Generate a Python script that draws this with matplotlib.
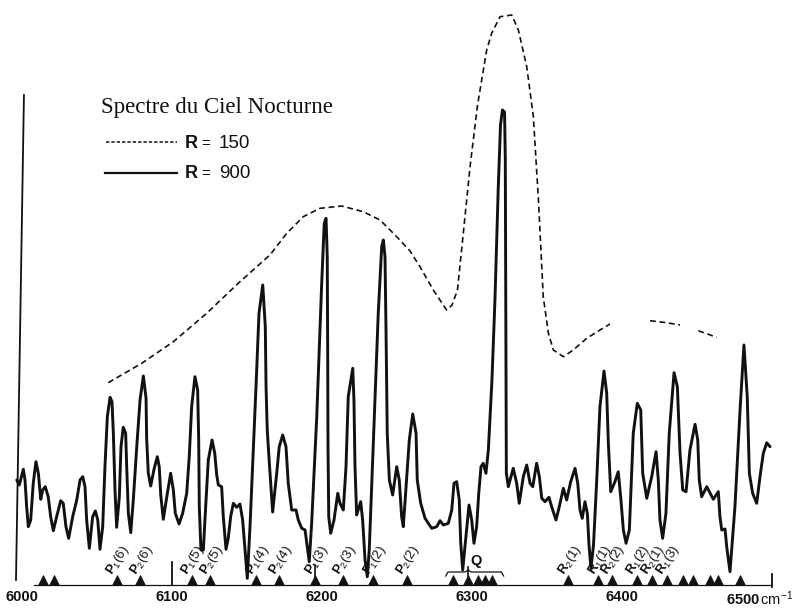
import numpy as np
import matplotlib
matplotlib.use("Agg")
import matplotlib.pyplot as plt
from matplotlib.lines import Line2D

plt.rcParams['font.family'] = ['Liberation Sans', 'DejaVu Sans']
plt.rcParams['mathtext.fontset'] = 'custom'
plt.rcParams['mathtext.rm'] = 'Liberation Sans'
plt.rcParams['mathtext.it'] = 'Liberation Sans:italic'
plt.rcParams['mathtext.bf'] = 'Liberation Sans:bold'

# ---------------- data (wavenumber in cm-1, relative intensity) ----------------
wn_900 = [5996.5, 5998.2, 6000.9, 6002.0, 6003.1, 6004.2, 6005.8, 6007.5, 6009.3, 6010.9,
          6012.5, 6013.8, 6015.5, 6017.5, 6019.1, 6020.9, 6023.1, 6025.8, 6027.5, 6029.3,
          6031.1, 6033.8, 6036.5, 6038.7, 6040.5, 6042.0, 6043.1, 6044.9, 6047.1, 6048.9,
          6050.5, 6052.0, 6053.8, 6055.3, 6056.9, 6058.7, 6060.0, 6060.9, 6062.0, 6063.1,
          6064.9, 6066.0, 6067.5, 6069.1, 6069.8, 6070.9, 6072.5, 6074.2, 6076.5, 6078.7,
          6080.9,
          6082.7, 6083.1, 6084.2, 6085.8, 6088.0, 6090.2, 6091.5, 6092.5, 6094.2, 6096.9,
          6099.1, 6100.9, 6102.2, 6104.7, 6107.1, 6109.8, 6111.5, 6113.1, 6115.3, 6117.1,
          6117.8, 6118.2, 6119.3, 6120.9, 6122.2, 6124.2, 6126.7, 6128.5, 6129.8, 6130.9,
          6133.1, 6134.2, 6136.0, 6137.5, 6139.1, 6140.9, 6143.1, 6145.3, 6147.1, 6148.7,
          6150.2, 6152.0, 6154.2, 6156.0, 6158.0, 6160.5, 6162.2, 6162.7, 6163.5, 6164.9,
          6167.1,
          6169.8, 6171.5, 6173.8, 6176.0, 6177.5, 6179.8, 6182.7, 6184.2, 6186.5, 6188.7,
          6190.2, 6191.5, 6193.1, 6196.5, 6199.8, 6201.5, 6202.7, 6203.5, 6203.8, 6204.0,
          6204.5, 6205.8, 6208.0, 6210.5, 6212.0, 6214.2, 6216.0, 6217.5, 6220.5, 6221.3,
          6222.0, 6223.1, 6225.8, 6227.1, 6228.7, 6230.2, 6231.5, 6234.2, 6237.5, 6239.8,
          6240.9, 6242.0, 6242.7, 6243.5, 6244.9, 6247.1, 6249.8, 6251.5, 6253.1, 6254.2,
          6256.5, 6258.2, 6260.5, 6262.7, 6263.5, 6265.8, 6268.7, 6273.1, 6276.5, 6278.7,
          6280.9, 6284.2, 6286.5, 6288.0, 6289.8, 6291.5, 6292.5, 6293.8, 6295.5, 6298.0,
          6299.8, 6301.3, 6303.1, 6304.5, 6306.0, 6307.5, 6309.3, 6310.9, 6313.3, 6315.3,
          6317.5, 6319.0, 6320.3, 6321.7, 6322.2, 6322.5, 6322.7, 6322.9, 6324.2, 6327.5,
          6329.8, 6331.5, 6334.2, 6336.5, 6338.7, 6340.5, 6343.1,
          6344.9, 6346.5, 6348.7, 6351.3, 6353.1, 6356.0, 6358.2, 6360.9, 6363.1, 6365.8,
          6368.7, 6370.5, 6372.0, 6373.5, 6375.3, 6376.9, 6378.0, 6379.3, 6381.0, 6383.1,
          6385.3, 6388.0, 6389.8, 6390.9, 6392.5, 6395.3, 6397.5, 6399.3, 6400.9, 6402.7,
          6404.9, 6407.5, 6410.2, 6412.5, 6413.8, 6416.5, 6419.8, 6422.7, 6424.2, 6425.3,
          6427.1, 6429.3, 6431.5, 6434.7, 6436.9, 6438.7, 6440.5, 6442.7, 6445.3, 6448.7,
          6450.5, 6451.5, 6453.1, 6456.5, 6460.9, 6464.2, 6465.3, 6466.5, 6468.7, 6469.8,
          6472.0, 6475.3, 6478.7, 6481.3, 6483.5, 6484.9, 6487.1, 6489.8, 6492.0, 6494.2,
          6496.5, 6498.7]

int_900 = [103, 98, 113.7, 103, 76.3, 56.3, 63, 99.7, 121.3, 109.7,
           83.7, 93, 96.3, 86.3, 66.3, 52.3, 66.3, 82.3, 79.7, 56.3,
           44.7, 66.3, 83, 103, 106.3, 96.3, 63, 34.7, 66.3, 72,
           63, 33.7, 56.3, 116.3, 166.3, 185.7, 181.3, 149.7, 93, 55.7,
           86.3, 136.3, 155.7, 149.7, 116.3, 69.7, 50.3, 83, 136.3, 183,
           207,
           184.7, 144.7, 109.7, 97, 113.7, 126.3, 116.3, 88, 63.7, 89.7,
           109.7, 93, 69.7, 59, 69.7, 89.7, 126.3, 176.3, 206.3, 193,
           143, 76.3, 33, 33, 69.7, 123, 143, 129.7, 108, 98,
           96.3, 66.3, 33.7, 44.7, 66.3, 79.7, 75.7, 79, 63, 33,
           4.7, 56.3, 133, 196.3, 269.7, 298, 256.3, 196.3, 153, 119.7,
           71,
           109.7, 136.3, 148, 136.3, 99.7, 73, 73, 63, 54.7, 53,
           36.3, 21.3, 59.7, 166.3, 299.7, 359.7, 364.7, 326.3, 229.7, 136.3,
           66.3, 49.7, 63, 89.7, 79.7, 73, 116.3, 186.3, 214.7, 183,
           116.3, 68, 81.3, 63, 23, 6.3, 33, 139.7, 269.7, 336.3,
           343, 326.3, 249.7, 149.7, 103, 88, 116.3, 103, 66.3, 56.3,
           106.3, 143, 169, 149.7, 103, 79.7, 64.7, 54.7, 56.3, 62.3,
           58, 59.7, 73, 99.7, 101.3, 83, 39.7, 13, 39.7, 78,
           63, 39.7, 56.3, 89.7, 116.3, 119.7, 109.7, 133, 203, 283,
           395, 458, 473, 471, 423, 283, 163, 110, 96.3, 114.7,
           99.7, 79.7, 106.3, 118, 99.7, 96.3, 119.7,
           106.3, 84.7, 81.3, 85.7, 76.3, 63, 76.3, 94.7, 83, 101.3,
           114.7, 99.7, 73, 64.7, 81.3, 69.7, 38, 14.7, 38, 101.3,
           176.3, 212, 189.7, 139.7, 91.3, 101.3, 111.3, 83, 53, 39.7,
           53, 149.7, 179.7, 173, 109.7, 84.7, 106.3, 131.3, 103, 63,
           44.7, 69.7, 149.7, 210.3, 196.3, 129.7, 93, 91.3, 133, 158.7,
           143, 103, 86.3, 96.3, 83.7, 91.3, 66.3, 53, 54, 36.3,
           11.3, 76.3, 173, 238, 186.3, 109.7, 89.7, 79.7, 106.3, 129.7,
           140.3, 136.3]

nan = float('nan')
wn_150 = [6057.5, 6079.8, 6100.9, 6123.1, 6145.3, 6165.3, 6176.5, 6187.5, 6198.7, 6213.1,
          6227.5, 6238.7, 6249.8, 6258.7, 6265.3, 6274.2, 6283.1, 6286.7, 6290.3, 6294.2,
          6298.7, 6303.7, 6309.8, 6313.1, 6318.7, 6326.5, 6330.9, 6336.5, 6340.9, 6344.3,
          6347.5, 6350.9, 6354.2, 6360.9, 6367.5, 6376.5, 6385.3, 6392.0, nan,
          6418.7, 6429.8, 6438.7, nan, 6450.9, 6463.1]
int_150 = [200.3, 219.7, 241.3, 269.7, 301.3, 328, 349.7, 366.3, 374.7, 377,
           371.3, 363, 346.3, 332, 316.3, 293, 273, 278, 293, 349.7,
           416.3, 478, 533, 549.7, 566.3, 568, 553, 516.3, 466.3, 383,
           286.3, 250, 233, 226.3, 233, 244.7, 253, 259, nan,
           262.3, 260.3, 258, nan, 252.3, 245.7]

line_names = [r"$\mathbf{P}_1$(6)", r"$\mathbf{P}_2$(6)", r"$\mathbf{P}_1$(5)", r"$\mathbf{P}_2$(5)",
              r"$\mathbf{P}_1$(4)", r"$\mathbf{P}_2$(4)", r"$\mathbf{P}_1$(3)", r"$\mathbf{P}_2$(3)",
              r"$\mathbf{P}_1$(2)", r"$\mathbf{P}_2$(2)", r"$\mathbf{R}_2$(1)", r"$\mathbf{R}_1$(1)",
              r"$\mathbf{R}_2$(2)", r"$\mathbf{R}_1$(2)", r"$\mathbf{R}_2$(1)", r"$\mathbf{R}_1$(3)"]
line_wn = [6063.1, 6078.7, 6113.1, 6125.3, 6156.0, 6171.5, 6195.3, 6214.2,
           6234.2, 6256.5, 6364.2, 6384.2, 6393.1, 6409.8, 6419.8, 6429.8]
q_wn = [6287.5, 6297.5, 6304.2, 6308.7, 6313.1]
other_wn = [6014.2, 6021.5, 6440.9, 6447.5, 6458.7, 6464.2, 6478.7]

tick_values = [6000, 6100, 6200, 6300, 6400]
last_tick = 6500

# ---------------- figure ----------------
W, H = 795, 614
fig = plt.figure(figsize=(W / 100, H / 100), dpi=100)
ax = fig.add_axes([0, 0, 1, 1])
ax.set_xlim(5985.333, 6515.333)
ax.set_ylim(-31, 583)
ax.axis('off')

def fx(x):
    return x / W

def fy(y):
    return 1 - y / H

ink = '#111111'

# spectra
ax.plot(wn_900, int_900, color=ink, lw=2.1, solid_joinstyle='round', solid_capstyle='round')
ax.plot(wn_150, int_150, color=ink, lw=1.2, linestyle=(0, (3.5, 2.2)))

# frame pieces: left vertical line and baseline
ax.plot([6001.3, 5996.0], [488, 3], color=ink, lw=1.3)
ax.plot([6008, last_tick], [-2, -2], color=ink, lw=0.9)
ax.plot([6100, 6100], [-2, 21], color=ink, lw=1.3)
ax.plot([last_tick, last_tick], [-4, 9], color=ink, lw=1.3)

# triangles (line positions)
all_tri = list(other_wn) + list(line_wn) + list(q_wn)
ax.plot(all_tri, [3] * len(all_tri), linestyle='none', marker='^',
        markersize=7.5, color=ink, markeredgewidth=0.5)

# labels of the lines
for name, w in zip(line_names, line_wn):
    ax.text(w - 3.0, 8, name, rotation=57, rotation_mode='anchor',
            ha='left', va='baseline', fontsize=9.5, color=ink)

# P1(3) marker stem and Q group
ax.plot([line_wn[6], line_wn[6]], [3, 18], color=ink, lw=1.2)
qlo, qhi, qmid = min(q_wn) - 5, max(q_wn) + 8, q_wn[1]
ax.plot([qlo, qlo + 1.5, qmid - 2, qmid, qmid + 2, qhi - 1.5, qhi],
        [7, 11, 11, 13, 11, 11, 7], color=ink, lw=0.9)
ax.plot([qmid, qmid], [3, 16], color=ink, lw=1.2)
ax.text(qmid + 5, 15, "Q", fontsize=10.5, fontweight='bold', ha='center',
        va='bottom', color=ink)

# tick labels
for v in tick_values:
    ax.text(v, -14, str(v), ha='center', va='center', fontsize=10.5,
            fontweight='bold', color=ink)
fig.text(fx(793), fy(599), r"$\mathbf{6500}\,$cm$^{-1}$", ha='right', va='center',
         fontsize=10.5, color=ink)

# legend / title
fig.text(fx(101), fy(113), "Spectre du Ciel Nocturne", family='Liberation Serif',
         fontsize=16.5, ha='left', va='baseline', color=ink)
fig.add_artist(Line2D([fx(106), fx(177)], [fy(142), fy(142)], transform=fig.transFigure,
                      color=ink, lw=1.1, linestyle=(0, (2.2, 1.3))))
fig.add_artist(Line2D([fx(105), fx(177)], [fy(173), fy(173)], transform=fig.transFigure,
                      color=ink, lw=1.6))
for yb, txt in [(148, "150"), (178, "900")]:
    fig.text(fx(185), fy(yb), "R", fontweight='bold', fontsize=13, ha='left',
             va='baseline', color=ink)
    fig.text(fx(201), fy(yb), "=", fontsize=11, ha='left', va='baseline', color=ink)
    fig.text(fx(219), fy(yb), txt, fontsize=13.5, ha='left', va='baseline', color=ink)

fig.savefig("out.png", dpi=100, facecolor='white')
